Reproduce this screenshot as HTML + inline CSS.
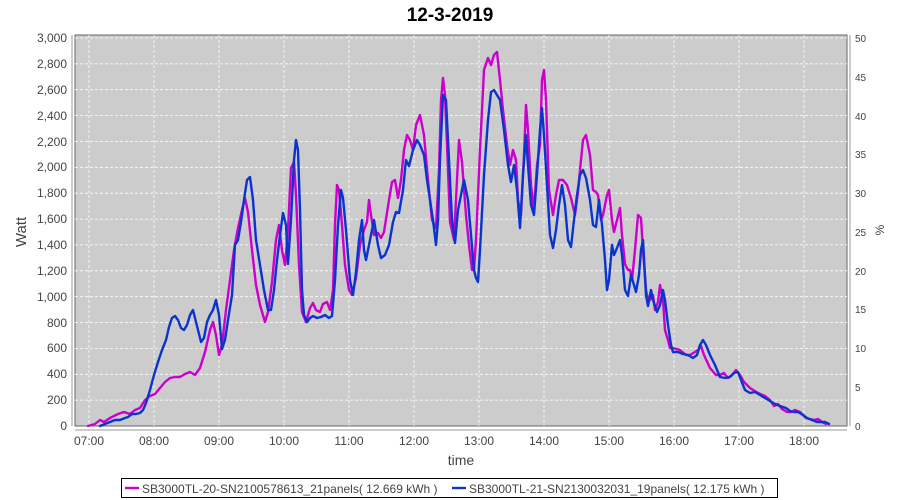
<!DOCTYPE html>
<html><head><meta charset="utf-8"><style>body{margin:0;background:#fff}svg{display:block}</style></head>
<body>
<svg width="900" height="500" xmlns="http://www.w3.org/2000/svg" font-family="Liberation Sans, sans-serif">
<rect width="900" height="500" fill="#fff"/>
<text x="450" y="21" text-anchor="middle" font-size="19" font-weight="bold" fill="#000">12-3-2019</text>
<rect x="75" y="35" width="772" height="391" fill="#cccccc" stroke="#666" stroke-width="1"/>
<g stroke="#fff" stroke-width="0.8" stroke-dasharray="3,2">
<line x1="75" x2="847" y1="38" y2="38"/><line x1="75" x2="847" y1="63.9" y2="63.9"/><line x1="75" x2="847" y1="89.7" y2="89.7"/><line x1="75" x2="847" y1="115.6" y2="115.6"/><line x1="75" x2="847" y1="141.5" y2="141.5"/><line x1="75" x2="847" y1="167.3" y2="167.3"/><line x1="75" x2="847" y1="193.2" y2="193.2"/><line x1="75" x2="847" y1="219.1" y2="219.1"/><line x1="75" x2="847" y1="244.9" y2="244.9"/><line x1="75" x2="847" y1="270.8" y2="270.8"/><line x1="75" x2="847" y1="296.7" y2="296.7"/><line x1="75" x2="847" y1="322.5" y2="322.5"/><line x1="75" x2="847" y1="348.4" y2="348.4"/><line x1="75" x2="847" y1="374.3" y2="374.3"/><line x1="75" x2="847" y1="400.1" y2="400.1"/>
<line y1="35" y2="426" x1="89" x2="89"/><line y1="35" y2="426" x1="154" x2="154"/><line y1="35" y2="426" x1="219" x2="219"/><line y1="35" y2="426" x1="284" x2="284"/><line y1="35" y2="426" x1="349" x2="349"/><line y1="35" y2="426" x1="414" x2="414"/><line y1="35" y2="426" x1="479" x2="479"/><line y1="35" y2="426" x1="544" x2="544"/><line y1="35" y2="426" x1="609" x2="609"/><line y1="35" y2="426" x1="674" x2="674"/><line y1="35" y2="426" x1="739" x2="739"/><line y1="35" y2="426" x1="804" x2="804"/>
</g>
<g stroke="#999" stroke-width="1" fill="none">
<line x1="72" y1="35" x2="72" y2="426"/><line x1="75" y1="430" x2="847" y2="430"/><line x1="850" y1="35" x2="850" y2="426"/>
</g>
<g font-size="12" fill="#444" text-anchor="end">
<text x="67" y="42">3,000</text><text x="67" y="68">2,800</text><text x="67" y="94">2,600</text><text x="67" y="120">2,400</text><text x="67" y="146">2,200</text><text x="67" y="171">2,000</text><text x="67" y="197">1,800</text><text x="67" y="223">1,600</text><text x="67" y="249">1,400</text><text x="67" y="275">1,200</text><text x="67" y="301">1,000</text><text x="67" y="327">800</text><text x="67" y="352">600</text><text x="67" y="378">400</text><text x="67" y="404">200</text><text x="67" y="430">0</text>
</g>
<g font-size="10" fill="#444">
<text x="855" y="42">50</text><text x="855" y="81">45</text><text x="855" y="120">40</text><text x="855" y="158">35</text><text x="855" y="197">30</text><text x="855" y="236">25</text><text x="855" y="275">20</text><text x="855" y="313">15</text><text x="855" y="352">10</text><text x="855" y="391">5</text><text x="855" y="430">0</text>
</g>
<g font-size="12" fill="#444" text-anchor="middle">
<text x="89" y="445">07:00</text><text x="154" y="445">08:00</text><text x="219" y="445">09:00</text><text x="284" y="445">10:00</text><text x="349" y="445">11:00</text><text x="414" y="445">12:00</text><text x="479" y="445">13:00</text><text x="544" y="445">14:00</text><text x="609" y="445">15:00</text><text x="674" y="445">16:00</text><text x="739" y="445">17:00</text><text x="804" y="445">18:00</text>
</g>
<text x="461" y="465" font-size="14" fill="#444" text-anchor="middle">time</text>
<text transform="translate(26,232) rotate(-90)" font-size="15" fill="#444" text-anchor="middle">Watt</text>
<text transform="translate(884,230) rotate(-90)" font-size="12" fill="#444" text-anchor="middle">%</text>
<g fill="none" stroke-width="2.4" stroke-linejoin="round" stroke-linecap="round">
<polyline stroke="#cc00cc" points="88,426 95,424 100,420 104,422 110,418 118,414 124,412 130,414 135,410 140,408 145,400 150,396 155,394 160,388 165,382 170,378 175,377 180,377 185,374 190,372 195,375 200,368 205,352 210,330 213,322 216,335 219,355 222,345 226,310 230,280 234,250 238,228 242,210 245,198 248,212 252,250 256,285 260,305 265,322 268,312 272,282 276,240 279,225 282,250 285,265 288,230 291,168 294,162 296,195 299,265 302,312 306,322 310,308 313,303 316,310 320,312 323,304 327,302 330,310 333,290 335,225 337,185 339,190 342,225 345,265 349,290 352,295 356,278 360,245 364,230 367,222 369,200 371,215 374,235 378,233 381,238 384,232 389,200 392,182 395,180 398,198 401,180 404,150 407,135 410,140 413,150 416,125 420,115 424,135 428,180 432,220 436,228 439,170 441,100 443,78 445,95 448,170 450,222 454,240 457,180 459,140 462,162 466,215 469,245 472,270 474,270 476,240 480,150 484,70 488,58 491,65 494,55 497,52 500,80 503,110 507,145 510,165 513,150 516,160 518,200 521,215 524,155 526,105 528,130 531,185 534,210 537,165 540,145 542,80 544,70 546,100 549,190 553,215 556,195 559,180 563,180 567,185 571,198 575,215 578,192 580,170 583,140 586,135 590,155 593,190 596,192 598,195 601,220 603,215 607,195 609,190 612,220 614,232 617,220 620,208 622,235 625,264 628,270 630,270 632,280 635,250 638,215 641,218 643,250 646,290 648,300 650,300 653,295 655,310 658,302 660,285 663,300 665,330 668,340 670,348 673,348 680,350 686,355 690,355 695,352 698,350 701,346 704,355 710,368 716,375 720,375 724,373 728,378 732,375 736,370 740,375 744,382 750,388 758,393 765,396 770,400 774,406 778,404 782,409 787,412 791,412 795,410 800,412 806,418 810,419 814,420 818,419 822,422 826,424"/>
<polyline stroke="#0a34cc" points="100,426 105,424 110,422 115,420 120,420 125,418 128,417 132,414 136,414 140,413 143,410 146,403 150,390 154,375 158,362 162,350 166,340 169,327 172,318 175,316 178,320 181,328 184,330 187,325 190,315 193,310 195,318 198,330 201,342 204,338 207,322 210,315 213,310 216,300 219,315 222,349 225,340 228,320 232,295 235,245 238,240 241,222 244,200 247,180 250,177 253,200 256,240 260,265 264,290 268,310 271,310 274,290 277,260 280,235 283,213 286,225 288,264 291,220 294,160 296,140 298,150 300,210 302,290 304,315 307,322 310,318 313,316 317,318 321,317 325,315 329,318 332,316 335,280 338,225 341,190 343,198 346,230 350,280 353,295 356,272 359,240 362,220 364,250 366,260 370,240 374,220 378,245 381,258 385,255 389,245 393,222 396,212 399,213 403,190 406,160 409,166 413,150 417,140 420,145 424,155 427,180 430,200 433,220 436,245 438,220 440,160 443,95 446,100 449,160 452,220 455,243 458,210 461,195 464,180 468,200 471,235 474,270 476,278 478,282 480,250 484,175 488,120 491,92 494,90 497,95 500,100 504,130 508,165 511,182 514,165 517,190 520,228 523,175 526,135 528,165 531,205 534,215 537,175 540,130 542,108 544,135 547,185 550,235 553,248 556,230 559,205 562,185 565,205 568,240 571,247 574,220 577,195 580,175 583,170 586,178 590,200 593,225 596,227 599,200 602,225 605,260 607,290 609,280 612,245 614,255 617,248 620,240 622,255 625,290 628,296 631,275 634,285 636,292 639,275 641,250 643,240 646,295 648,306 651,290 653,300 657,312 660,305 663,290 665,300 668,325 671,345 673,352 678,352 683,354 688,355 693,358 697,355 700,345 703,340 706,345 710,355 715,365 720,377 725,378 730,377 734,373 738,372 741,380 745,390 750,393 755,392 760,395 765,398 770,401 775,404 780,406 786,408 790,411 794,412 798,412 803,415 807,418 812,420 817,422 821,422 825,422 829,424"/>
</g>
<rect x="121.5" y="478.5" width="656" height="19" fill="#fff" stroke="#000" stroke-width="1"/>
<line x1="125" y1="488" x2="139" y2="488" stroke="#cc00cc" stroke-width="2.4"/>
<text x="142" y="493" font-size="12" fill="#444">SB3000TL-20-SN2100578613_21panels( 12.669 kWh )</text>
<line x1="452" y1="488" x2="466" y2="488" stroke="#0a34cc" stroke-width="2.4"/>
<text x="469" y="493" font-size="12" fill="#444">SB3000TL-21-SN2130032031_19panels( 12.175 kWh )</text>
</svg>
</body></html>
